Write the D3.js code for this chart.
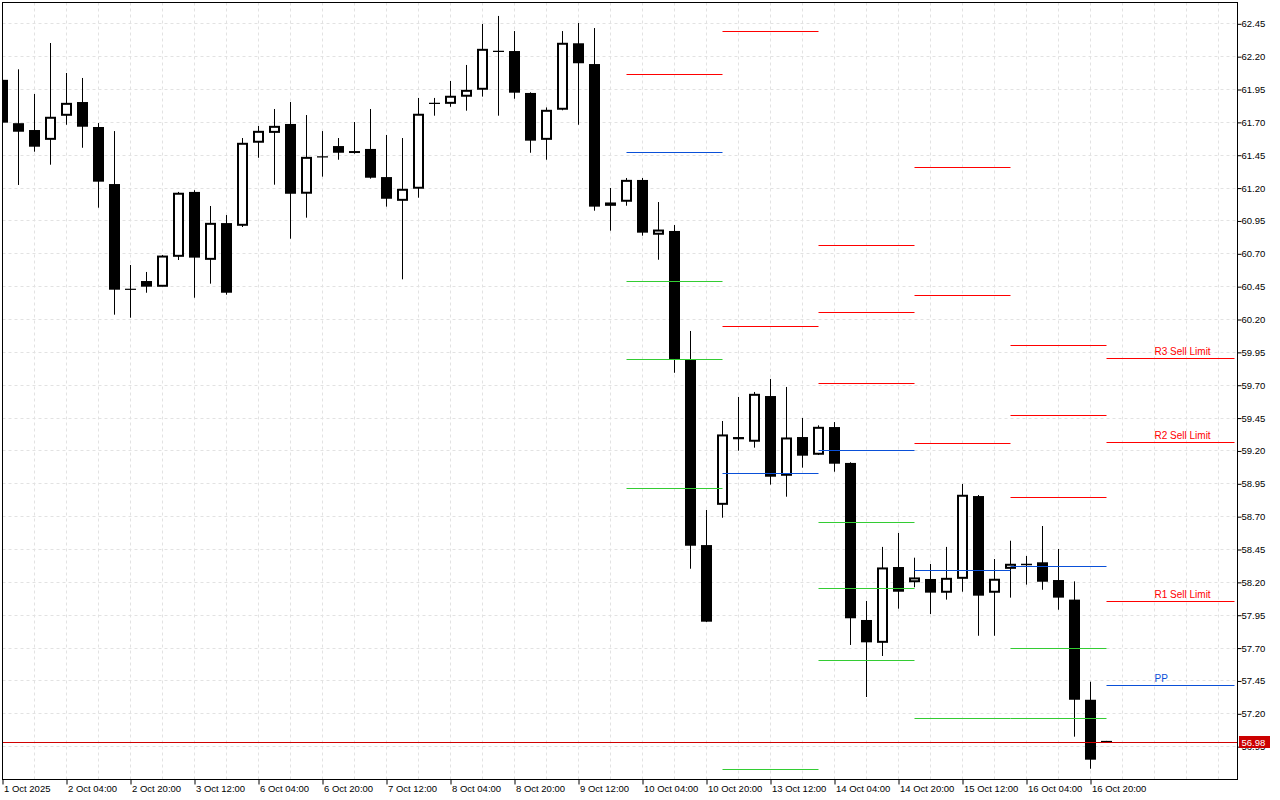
<!DOCTYPE html>
<html><head><meta charset="utf-8">
<script src="https://cdn.jsdelivr.net/npm/d3@7"></script>
<style>
html,body{margin:0;padding:0;background:#fff;}
svg{display:block;}
text{font-family:"Liberation Sans",Arial,sans-serif;}
</style></head><body>
<svg id="chart" width="1280" height="800"></svg>
<script>
// ---- Data (H4 bars, 1 Oct 2025 12:00 .. 17 Oct 2025 00:00) ----
const open  = [62.02,61.69,61.638,61.567,61.75,61.851,61.661,61.227,60.426,60.489,
               60.449,60.677,61.167,60.654,60.93,60.913,61.545,61.62,61.684,61.157,
               61.433,61.516,61.478,61.494,61.28,61.103,61.195,61.841,61.841,61.895,
               61.948,62.237,62.239,61.92,61.567,61.796,62.298,62.14,61.065,61.096,
               61.258,60.845,60.87,59.888,58.48,58.79,59.302,59.27,59.614,59.011,
               59.302,59.171,59.378,59.105,57.91,57.74,58.313,58.201,58.222,58.121,
               58.227,58.853,58.121,58.303,58.338,58.349,58.214,58.065,57.303,56.99];
const high  = [62.08,62.10,61.912,62.30,62.072,62.034,61.691,61.63,60.611,60.558,
               60.687,61.167,61.18,61.06,60.991,61.577,61.669,61.798,61.851,61.752,
               61.63,61.577,61.699,61.798,61.60,61.577,61.882,61.882,62.011,62.133,
               62.445,62.506,62.391,61.925,61.81,62.391,62.452,62.414,61.197,61.273,
               61.273,61.09,60.915,60.109,58.747,59.424,59.607,59.645,59.744,59.683,
               59.447,59.391,59.416,59.11,58.055,58.466,58.572,58.384,58.336,58.466,
               58.945,58.861,58.374,58.513,58.397,58.625,58.45,58.204,57.44,56.99];
const low   = [61.62,61.22,61.473,61.374,61.678,61.503,61.047,60.233,60.21,60.40,
               60.449,60.649,60.362,60.469,60.385,60.90,61.427,61.222,60.811,60.971,
               61.283,61.412,61.458,61.268,61.055,60.502,61.123,61.747,61.815,61.785,
               61.892,61.747,61.876,61.465,61.412,61.788,61.678,61.024,60.872,61.062,
               60.834,60.651,59.791,58.30,57.895,58.688,59.198,59.221,58.94,58.848,
               59.069,59.165,59.038,57.72,57.324,57.636,57.996,58.159,57.955,58.065,
               58.125,57.79,57.79,58.08,58.179,58.14,57.988,57.022,56.778,56.975];
const close = [61.694,61.625,61.511,61.735,61.841,61.663,61.245,60.423,60.426,60.446,
               60.679,61.157,60.667,60.928,60.40,61.537,61.628,61.666,61.153,61.43,
               61.433,61.465,61.463,61.275,61.115,61.187,61.758,61.841,61.895,61.94,
               62.252,62.237,61.922,61.557,61.788,62.298,62.146,61.055,61.083,61.255,
               60.857,60.877,59.896,58.475,57.897,59.318,59.285,59.627,59.00,59.295,
               59.16,59.376,59.099,57.923,57.74,58.306,58.125,58.23,58.118,58.227,
               58.859,58.095,58.22,58.334,58.328,58.201,58.08,57.303,56.847,56.98];

const yTicks = [62.45,62.20,61.95,61.70,61.45,61.20,60.95,60.70,60.45,60.20,59.95,59.70,
                59.45,59.20,58.95,58.70,58.45,58.20,57.95,57.70,57.45,57.20,56.95];
const xTickBars   = [0,4,8,12,16,20,24,28,32,36,40,44,48,52,56,60,64,68];
const xTickLabels = ["1 Oct 2025","2 Oct 04:00","2 Oct 20:00","3 Oct 12:00","6 Oct 04:00",
                     "6 Oct 20:00","7 Oct 12:00","8 Oct 04:00","8 Oct 20:00","9 Oct 12:00",
                     "10 Oct 04:00","10 Oct 20:00","13 Oct 12:00","14 Oct 04:00","14 Oct 20:00",
                     "15 Oct 12:00","16 Oct 04:00","16 Oct 20:00"];

// Daily pivot levels (null = outside the visible range)
const pivotStart = [39,45,51,57,63,69];
const pivotEnd   = [45,51,57,63,69,77];
const pivR3 = [null,  null,   60.761, 61.354, 60.003, 59.901];
const pivR2 = [null,  62.389, 60.251, 60.38,  59.467, 59.262];
const pivR1 = [62.062,60.145, 59.711, 59.254, 58.844, 58.052];
const pivPP = [61.468,59.026, 59.201, 58.288, 58.318, 57.413];
const pivS1 = [60.487,56.78,  58.653, 57.164, 57.694, null];
const pivS2 = [59.894,null,   58.151, null,   57.164, null];
const pivS3 = [58.912,null,   57.606, null,   null,   null];
const levelLabels = [["R3 Sell Limit", pivR3], ["R2 Sell Limit", pivR2], ["R1 Sell Limit", pivR1], ["PP", pivPP]];
const labelBar = 72;
const currentPrice = 56.98;

// ---- Layout ----
const L = 2.5, T = 2.5, R = 1237.5, B = 779.5;
const RED = "#ff0000", BLUE = "#0a50d8", GREEN = "#33cc33", PRICE = "#d00000";

const svg = d3.select("#chart");
const x = d3.scaleLinear().domain([0, 77]).range([2.5, 2.5 + 16 * 77]);
const y = d3.scaleLinear().domain([57.20, 62.45]).range([713.3, 23.3]);

svg.append("defs").append("clipPath").attr("id", "plotclip")
  .append("rect").attr("x", L + 0.5).attr("y", T + 0.5).attr("width", R - L - 0.5).attr("height", B - T - 0.5);

const plot = svg.append("g").attr("clip-path", "url(#plotclip)");

// grid
const gridBars = d3.range(2, 77, 2);
plot.append("g").selectAll("line").data(gridBars).join("line")
  .attr("x1", d => x(d)).attr("x2", d => x(d)).attr("y1", T).attr("y2", B)
  .attr("stroke", "#e2e2e2").attr("stroke-width", 1).attr("stroke-dasharray", "3,3");
plot.append("g").selectAll("line").data(yTicks).join("line")
  .attr("x1", L).attr("x2", R).attr("y1", d => Math.round(y(d)) + 0.5).attr("y2", d => Math.round(y(d)) + 0.5)
  .attr("stroke", "#e2e2e2").attr("stroke-width", 1).attr("stroke-dasharray", "3,3");

// candles
const bars = d3.range(open.length);
const cg = plot.append("g");
bars.forEach(i => {
  const cx = x(i), o = y(open[i]), c = y(close[i]);
  cg.append("line").attr("x1", cx).attr("x2", cx).attr("y1", y(high[i])).attr("y2", y(low[i]))
    .attr("stroke", "#000").attr("stroke-width", 1);
  const bull = close[i] >= open[i];
  if (Math.abs(o - c) < 1.2) {
    cg.append("line").attr("x1", cx - 5.5).attr("x2", cx + 5.5).attr("y1", c).attr("y2", c)
      .attr("stroke", "#000").attr("stroke-width", bull ? 1.2 : 2);
  } else if (bull) {
    cg.append("rect").attr("x", cx - 4.5).attr("width", 9)
      .attr("y", c + 0.5).attr("height", Math.max(1, o - c - 1))
      .attr("fill", "#fff").attr("stroke", "#000").attr("stroke-width", 2);
  } else {
    cg.append("rect").attr("x", cx - 5.5).attr("width", 11)
      .attr("y", o).attr("height", Math.max(1.5, c - o)).attr("fill", "#000");
  }
});

// pivot lines
const lg = plot.append("g");
const levelSets = [[pivR3, RED], [pivR2, RED], [pivR1, RED], [pivPP, BLUE], [pivS1, GREEN], [pivS2, GREEN], [pivS3, GREEN]];
levelSets.forEach(([arr, col]) => {
  arr.forEach((v, k) => {
    if (v == null) return;
    const yy = Math.round(y(v)) + 0.5;
    lg.append("line").attr("x1", x(pivotStart[k])).attr("x2", x(pivotEnd[k]))
      .attr("y1", yy).attr("y2", yy).attr("stroke", col).attr("stroke-width", 1);
  });
});
// labels for current day
levelLabels.forEach(([txt, arr]) => {
  const v = arr[arr.length - 1];
  lg.append("text").attr("x", x(labelBar)).attr("y", Math.round(y(v)) - 3)
    .attr("font-size", "10px").attr("fill", txt === "PP" ? BLUE : RED).text(txt);
});

// current price line
const py = Math.round(y(currentPrice)) + 0.5;
plot.append("line").attr("x1", L).attr("x2", R).attr("y1", py).attr("y2", py)
  .attr("stroke", PRICE).attr("stroke-width", 1);

// border
svg.append("rect").attr("x", L).attr("y", T).attr("width", R - L).attr("height", B - T)
  .attr("fill", "none").attr("stroke", "#000").attr("stroke-width", 1);

// right axis
const yAxis = d3.axisRight(y).tickValues(yTicks).tickSize(4).tickPadding(0).tickFormat(d3.format(".2f"));
const ya = svg.append("g").attr("transform", `translate(${R},0.5)`).call(yAxis);
ya.select(".domain").remove();
ya.selectAll(".tick line").attr("stroke", "#000");
ya.selectAll(".tick text").attr("font-size", "9.5px").attr("font-family", "Liberation Sans, Arial, sans-serif")
  .attr("fill", "#000").attr("x", 4);

// bottom axis
const xAxis = d3.axisBottom(x).tickValues(xTickBars).tickSize(5).tickPadding(0)
  .tickFormat((d, k) => xTickLabels[k]);
const xa = svg.append("g").attr("transform", `translate(0,${B})`).call(xAxis);
xa.select(".domain").remove();
xa.selectAll(".tick line").attr("stroke", "#000");
xa.selectAll(".tick text").attr("font-size", "9.5px").attr("font-family", "Liberation Sans, Arial, sans-serif")
  .attr("fill", "#000").attr("text-anchor", "start").attr("x", 1).attr("y", 12.5).attr("dy", 0);

// price label
svg.append("rect").attr("x", 1239).attr("y", py - 6.5).attr("width", 31).attr("height", 12).attr("fill", "#cc0000");
svg.append("text").attr("x", 1241.5).attr("y", py + 3.5).attr("font-size", "9.5px").attr("fill", "#fff")
  .text(currentPrice.toFixed(2));
</script>
</body></html>
